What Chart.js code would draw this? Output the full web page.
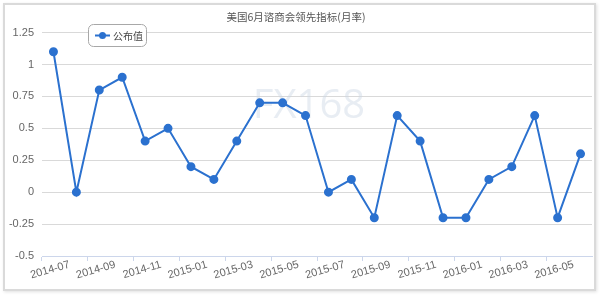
<!DOCTYPE html>
<html>
<head>
<meta charset="utf-8">
<script src="https://cdn.jsdelivr.net/npm/chart.js@4"></script>
<style>
  body { margin: 0; background: #fff; }
  #wrap { position: relative; width: 600px; height: 296px; }
  #chart { position: absolute; left: 0; top: 0; }
  #frame {
    position: absolute; left: 3px; top: 3px; width: 589px; height: 284px;
    border: 2px solid #dadada; box-shadow: 1px 1px 3px rgba(0,0,0,0.12);
    pointer-events: none;
  }
</style>
</head>
<body>
<div id="wrap">
  <canvas id="chart" width="600" height="296"></canvas>
  <div id="frame"></div>
</div>
<script>
const months = ['2014-07', '2014-08', '2014-09', '2014-10', '2014-11', '2014-12',
                '2015-01', '2015-02', '2015-03', '2015-04', '2015-05', '2015-06',
                '2015-07', '2015-08', '2015-09', '2015-10', '2015-11', '2015-12',
                '2016-01', '2016-02', '2016-03', '2016-04', '2016-05', '2016-06'];
const published = [1.1, 0, 0.8, 0.9, 0.4, 0.5, 0.2, 0.1, 0.4, 0.7, 0.7, 0.6,
                   0, 0.1, -0.2, 0.6, 0.4, -0.2, -0.2, 0.1, 0.2, 0.6, -0.2, 0.3];
const yTicks = [-0.5, -0.25, 0, 0.25, 0.5, 0.75, 1, 1.25];
const titleText = '美国6月谘商会领先指标(月率)';
const seriesName = '公布值';
const blue = '#2b71cf';

// watermark behind the line
const watermark = {
    id: 'watermark',
    beforeDatasetsDraw(chart) {
        const c = chart.ctx;
        c.save();
        c.font = '40px "Open Sans"';
        c.fillStyle = 'rgba(205,216,228,0.45)';
        c.textAlign = 'center';
        c.textBaseline = 'alphabetic';
        c.fillText('FX168', 309, 118);
        c.restore();
    }
};

// floating legend box inside the plot, like the original
const floatLegend = {
    id: 'floatLegend',
    afterDraw(chart) {
        const c = chart.ctx;
        const x = 88.5, y = 24.5, w = 58, h = 22;
        c.save();
        c.beginPath();
        c.roundRect(x, y, w, h, 5);
        c.fillStyle = '#fff';
        c.fill();
        c.strokeStyle = '#a8a8a8';
        c.lineWidth = 1;
        c.stroke();
        c.strokeStyle = blue;
        c.lineWidth = 2;
        c.beginPath();
        c.moveTo(95, 35.5);
        c.lineTo(110, 35.5);
        c.stroke();
        c.fillStyle = blue;
        c.beginPath();
        c.arc(102.5, 35.5, 3.5, 0, Math.PI * 2);
        c.fill();
        c.fillStyle = '#444';
        c.font = '10px "Noto Sans CJK SC"';
        c.textBaseline = 'middle';
        c.fillText(chart.data.datasets[0].label, 113, 36);
        c.restore();
    }
};

new Chart(document.getElementById('chart'), {
    type: 'line',
    data: {
        labels: months,
        datasets: [{
            label: seriesName,
            data: published,
            borderColor: blue,
            backgroundColor: blue,
            borderWidth: 2,
            pointRadius: 3.5,
            pointHoverRadius: 3.5,
            tension: 0
        }]
    },
    options: {
        responsive: false,
        animation: false,
        layout: { padding: { left: 0, right: 8, top: 1, bottom: 10 } },
        plugins: {
            legend: { display: false },
            tooltip: { enabled: false },
            title: {
                display: true,
                text: titleText,
                color: '#555',
                font: { family: '"Noto Sans CJK SC"', size: 10.5, weight: 'normal' },
                padding: { top: 9.5, bottom: 9.5 }
            }
        },
        scales: {
            x: {
                offset: true,
                afterFit(scale) { scale.height = 30; },
                border: { display: true, color: '#ccd6eb', width: 1 },
                grid: {
                    display: true,
                    drawOnChartArea: false,
                    drawTicks: true,
                    tickLength: 5,
                    offset: true,
                    color: (ctx) => (ctx.index % 2 === 0 ? '#ccd6eb' : 'rgba(0,0,0,0)')
                },
                ticks: {
                    autoSkip: false,
                    minRotation: 16,
                    maxRotation: 16,
                    labelOffset: 16,
                    padding: -3,
                    color: '#666',
                    font: { family: '"Liberation Sans"', size: 11 },
                    callback: (v, i) => (i % 2 === 0 ? months[i] : '')
                }
            },
            y: {
                min: yTicks[0],
                max: yTicks[yTicks.length - 1],
                afterFit(scale) { scale.width = 42; },
                afterBuildTicks(scale) { scale.ticks = yTicks.map(v => ({ value: v })); },
                border: { display: false },
                grid: { color: '#d9d9d9', drawTicks: false },
                ticks: {
                    padding: 8,
                    color: '#666',
                    font: { family: '"Liberation Sans"', size: 11 },
                    callback: (v) => String(v)
                }
            }
        }
    },
    plugins: [watermark, floatLegend]
});
</script>
</body>
</html>
